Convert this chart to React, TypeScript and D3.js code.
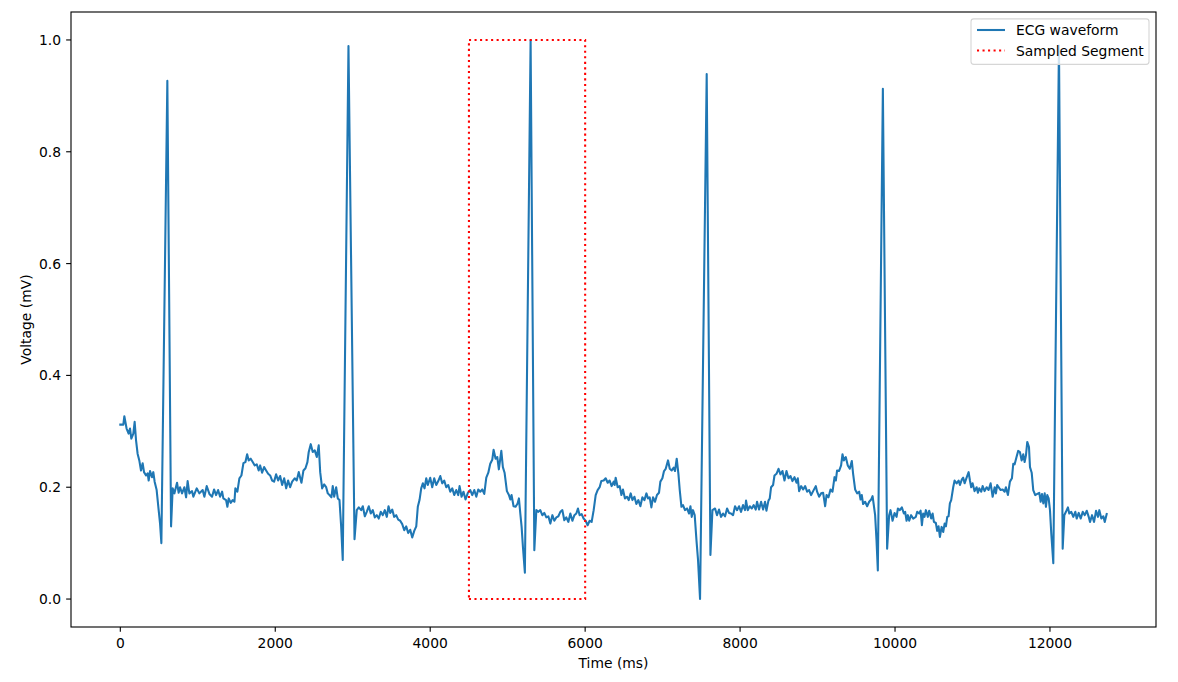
import React from "react";
import * as d3 from "d3";

// ECG samples: [time (ms), voltage (mV)]
const ecgSamples: [number, number][] = [
  [0, 0.312], [39, 0.312], [52, 0.327], [81, 0.305], [107, 0.296], [125, 0.305], [142, 0.287], [168, 0.296],
  [185, 0.317], [203, 0.284], [223, 0.26], [245, 0.248], [267, 0.23], [288, 0.243], [306, 0.227], [332, 0.221],
  [353, 0.225], [366, 0.212], [384, 0.229], [409, 0.218], [426, 0.227], [443, 0.21], [469, 0.195], [495, 0.159],
  [513, 0.135], [530, 0.1], [607, 0.927], [655, 0.13], [676, 0.198], [698, 0.189], [732, 0.208], [753, 0.19],
  [771, 0.2], [797, 0.189], [827, 0.2], [849, 0.182], [869, 0.211], [891, 0.189], [926, 0.193], [943, 0.183],
  [986, 0.198], [1020, 0.189], [1063, 0.195], [1085, 0.183], [1115, 0.202], [1150, 0.188], [1184, 0.183],
  [1210, 0.196], [1236, 0.186], [1262, 0.195], [1288, 0.183], [1314, 0.192], [1330, 0.18], [1365, 0.177],
  [1382, 0.165], [1399, 0.18], [1425, 0.172], [1450, 0.177], [1473, 0.174], [1485, 0.198], [1511, 0.192],
  [1537, 0.216], [1563, 0.221], [1589, 0.243], [1615, 0.245], [1637, 0.259], [1657, 0.248], [1683, 0.251],
  [1709, 0.245], [1735, 0.239], [1761, 0.241], [1786, 0.23], [1805, 0.239], [1830, 0.226], [1856, 0.236],
  [1882, 0.23], [1908, 0.224], [1934, 0.221], [1960, 0.212], [1985, 0.21], [2011, 0.223], [2037, 0.212],
  [2063, 0.22], [2089, 0.204], [2115, 0.216], [2141, 0.198], [2166, 0.212], [2192, 0.2], [2218, 0.21],
  [2251, 0.216], [2277, 0.212], [2303, 0.227], [2338, 0.208], [2364, 0.23], [2390, 0.234], [2415, 0.245],
  [2432, 0.263], [2458, 0.277], [2484, 0.263], [2510, 0.266], [2536, 0.254], [2561, 0.275], [2580, 0.227],
  [2605, 0.198], [2631, 0.205], [2657, 0.2], [2678, 0.189], [2700, 0.186], [2725, 0.182], [2742, 0.202],
  [2760, 0.183], [2786, 0.2], [2807, 0.18], [2829, 0.177], [2851, 0.129], [2871, 0.07], [2945, 0.989],
  [3023, 0.107], [3052, 0.159], [3078, 0.164], [3109, 0.159], [3130, 0.166], [3156, 0.148], [3181, 0.156],
  [3207, 0.166], [3233, 0.153], [3259, 0.159], [3285, 0.146], [3311, 0.15], [3336, 0.144], [3362, 0.156],
  [3388, 0.15], [3414, 0.159], [3440, 0.147], [3462, 0.166], [3484, 0.154], [3510, 0.16], [3535, 0.147],
  [3561, 0.15], [3587, 0.142], [3613, 0.14], [3639, 0.134], [3665, 0.123], [3690, 0.13], [3716, 0.118],
  [3742, 0.124], [3768, 0.11], [3794, 0.122], [3820, 0.13], [3840, 0.165], [3862, 0.177], [3884, 0.198],
  [3905, 0.207], [3927, 0.198], [3949, 0.216], [3969, 0.204], [4000, 0.217], [4026, 0.2], [4052, 0.216],
  [4078, 0.204], [4104, 0.211], [4130, 0.22], [4155, 0.207], [4181, 0.212], [4207, 0.2], [4233, 0.204],
  [4259, 0.192], [4285, 0.198], [4310, 0.186], [4336, 0.195], [4362, 0.186], [4379, 0.202], [4405, 0.183],
  [4430, 0.192], [4456, 0.178], [4486, 0.19], [4517, 0.195], [4543, 0.186], [4569, 0.195], [4595, 0.183],
  [4620, 0.196], [4646, 0.192], [4672, 0.196], [4698, 0.188], [4724, 0.217], [4750, 0.226], [4775, 0.242],
  [4801, 0.249], [4818, 0.267], [4844, 0.251], [4866, 0.254], [4886, 0.232], [4918, 0.265], [4938, 0.236],
  [4960, 0.226], [4990, 0.193], [5016, 0.186], [5034, 0.178], [5050, 0.186], [5076, 0.166], [5102, 0.165],
  [5128, 0.171], [5145, 0.18], [5163, 0.153], [5180, 0.129], [5197, 0.093], [5222, 0.047], [5296, 1.0],
  [5344, 0.0875], [5370, 0.159], [5396, 0.156], [5421, 0.159], [5447, 0.15], [5473, 0.154], [5499, 0.146],
  [5525, 0.148], [5551, 0.135], [5577, 0.15], [5602, 0.14], [5628, 0.146], [5654, 0.148], [5680, 0.156],
  [5706, 0.159], [5731, 0.141], [5757, 0.146], [5783, 0.138], [5809, 0.153], [5835, 0.14], [5861, 0.15],
  [5886, 0.153], [5907, 0.162], [5929, 0.15], [5955, 0.152], [5980, 0.144], [6006, 0.14], [6032, 0.132],
  [6058, 0.14], [6084, 0.138], [6110, 0.159], [6136, 0.186], [6161, 0.195], [6187, 0.2], [6209, 0.211],
  [6239, 0.212], [6265, 0.216], [6291, 0.208], [6316, 0.212], [6342, 0.202], [6368, 0.21], [6381, 0.204],
  [6394, 0.217], [6420, 0.2], [6446, 0.202], [6468, 0.186], [6488, 0.196], [6514, 0.18], [6540, 0.183],
  [6562, 0.177], [6588, 0.189], [6610, 0.177], [6636, 0.183], [6661, 0.17], [6687, 0.177], [6713, 0.166],
  [6739, 0.182], [6765, 0.177], [6791, 0.189], [6811, 0.18], [6833, 0.182], [6855, 0.164], [6876, 0.182],
  [6902, 0.174], [6927, 0.186], [6953, 0.19], [6971, 0.21], [6997, 0.216], [7018, 0.229], [7040, 0.233],
  [7070, 0.248], [7092, 0.233], [7117, 0.23], [7143, 0.235], [7160, 0.229], [7182, 0.251], [7204, 0.224],
  [7221, 0.195], [7243, 0.165], [7263, 0.168], [7289, 0.159], [7315, 0.162], [7341, 0.153], [7359, 0.166],
  [7376, 0.147], [7392, 0.159], [7414, 0.15], [7437, 0.105], [7457, 0.07], [7483, 0.0], [7569, 0.939],
  [7617, 0.079], [7643, 0.159], [7677, 0.162], [7702, 0.15], [7728, 0.16], [7754, 0.147], [7780, 0.153],
  [7806, 0.148], [7832, 0.162], [7857, 0.154], [7883, 0.153], [7909, 0.15], [7935, 0.166], [7961, 0.159],
  [7987, 0.166], [8012, 0.156], [8038, 0.168], [8064, 0.159], [8077, 0.176], [8099, 0.159], [8125, 0.166],
  [8151, 0.162], [8176, 0.168], [8202, 0.16], [8219, 0.174], [8245, 0.16], [8271, 0.174], [8297, 0.16],
  [8322, 0.174], [8340, 0.158], [8366, 0.176], [8383, 0.18], [8400, 0.2], [8426, 0.204], [8444, 0.221],
  [8470, 0.224], [8496, 0.233], [8521, 0.223], [8547, 0.229], [8573, 0.212], [8599, 0.229], [8625, 0.216],
  [8651, 0.22], [8676, 0.211], [8702, 0.218], [8728, 0.208], [8745, 0.216], [8762, 0.193], [8788, 0.202],
  [8814, 0.196], [8840, 0.202], [8865, 0.192], [8891, 0.195], [8917, 0.186], [8943, 0.193], [8977, 0.202],
  [8994, 0.192], [9020, 0.183], [9046, 0.189], [9072, 0.19], [9098, 0.166], [9116, 0.186], [9141, 0.182],
  [9167, 0.196], [9193, 0.192], [9219, 0.218], [9236, 0.212], [9252, 0.23], [9278, 0.229], [9304, 0.239],
  [9322, 0.259], [9339, 0.248], [9364, 0.254], [9390, 0.239], [9416, 0.233], [9442, 0.247], [9459, 0.224],
  [9485, 0.196], [9511, 0.189], [9537, 0.192], [9555, 0.178], [9571, 0.186], [9588, 0.17], [9614, 0.174],
  [9640, 0.166], [9666, 0.174], [9692, 0.178], [9710, 0.184], [9726, 0.168], [9743, 0.15], [9761, 0.105],
  [9778, 0.051], [9843, 0.9125], [9898, 0.09], [9924, 0.15], [9942, 0.159], [9968, 0.14], [9994, 0.154],
  [10020, 0.147], [10037, 0.162], [10062, 0.159], [10088, 0.164], [10114, 0.153], [10131, 0.156],
  [10149, 0.14], [10166, 0.15], [10183, 0.14], [10208, 0.15], [10234, 0.144], [10269, 0.147], [10286, 0.156],
  [10312, 0.153], [10330, 0.158], [10347, 0.132], [10363, 0.153], [10381, 0.147], [10398, 0.159],
  [10424, 0.147], [10441, 0.158], [10467, 0.144], [10485, 0.153], [10502, 0.138], [10527, 0.136],
  [10544, 0.122], [10562, 0.13], [10579, 0.111], [10601, 0.129], [10622, 0.12], [10640, 0.135], [10657, 0.13],
  [10674, 0.147], [10691, 0.148], [10708, 0.171], [10725, 0.177], [10751, 0.2], [10769, 0.212], [10795, 0.207],
  [10821, 0.212], [10838, 0.204], [10863, 0.214], [10880, 0.217], [10898, 0.207], [10924, 0.217],
  [10950, 0.227], [10967, 0.212], [10983, 0.2], [11001, 0.207], [11027, 0.193], [11053, 0.2], [11070, 0.19],
  [11087, 0.198], [11113, 0.192], [11131, 0.202], [11156, 0.193], [11182, 0.2], [11208, 0.195], [11234, 0.207],
  [11260, 0.183], [11286, 0.2], [11302, 0.189], [11319, 0.204], [11337, 0.2], [11363, 0.195], [11389, 0.196],
  [11415, 0.192], [11431, 0.2], [11457, 0.186], [11483, 0.21], [11509, 0.216], [11526, 0.242], [11544, 0.241],
  [11570, 0.255], [11590, 0.265], [11612, 0.263], [11634, 0.248], [11655, 0.259], [11673, 0.245],
  [11690, 0.257], [11707, 0.281], [11729, 0.272], [11742, 0.236], [11764, 0.226], [11784, 0.195],
  [11810, 0.186], [11836, 0.188], [11862, 0.19], [11880, 0.174], [11897, 0.188], [11914, 0.171],
  [11932, 0.189], [11948, 0.165], [11965, 0.186], [11983, 0.18], [12000, 0.159], [12017, 0.117],
  [12043, 0.064], [12116, 0.99], [12164, 0.09], [12185, 0.15], [12206, 0.156], [12232, 0.164], [12249, 0.153],
  [12275, 0.156], [12301, 0.147], [12327, 0.156], [12345, 0.144], [12371, 0.154], [12397, 0.144],
  [12423, 0.156], [12449, 0.15], [12475, 0.158], [12500, 0.147], [12517, 0.138], [12543, 0.15], [12569, 0.138],
  [12595, 0.158], [12620, 0.147], [12637, 0.159], [12663, 0.144], [12689, 0.148], [12707, 0.138], [12732, 0.152],
];

// Sampled segment rectangle corners (ms, mV)
const segmentTimes = [4500, 6000, 6000, 4500, 4500];
const segmentValues = [0, 0, 1, 1, 0];

const xTicks = [0, 2000, 4000, 6000, 8000, 10000, 12000];
const yTicks = [0, 0.2, 0.4, 0.6, 0.8, 1.0];
const legendLabels = ["ECG waveform", "Sampled Segment"];

const W = 1178;
const H = 682;
const plot = { left: 71, right: 1156, top: 12, bottom: 627 };
const FONT = "DejaVu Sans, sans-serif";
const FS = 13.89;

export default function App() {
  const tMax = d3.max(ecgSamples, (d) => d[0]) as number;
  const tMin = 0;
  const xPad = (tMax - tMin) * 0.05;
  const x = d3.scaleLinear().domain([tMin - xPad, tMax + xPad]).range([plot.left, plot.right]);
  const y = d3.scaleLinear().domain([-0.05, 1.05]).range([plot.bottom, plot.top]);

  const line = d3
    .line<[number, number]>()
    .x((d) => x(d[0]))
    .y((d) => y(d[1]));

  const segPts: [number, number][] = segmentTimes.map((t, i) => [t, segmentValues[i]]);

  const tickLen = 4.86;
  const lg = { x: 971, y: 18.9, w: 178, h: 45.5 };

  return (
    <svg
      width={W}
      height={H}
      style={{ position: "absolute", left: 0, top: 0, background: "#fff" }}
      fontFamily={FONT}
    >
      <rect x={0} y={0} width={W} height={H} fill="#fff" />
      <defs>
        <clipPath id="plotclip">
          <rect x={plot.left} y={plot.top} width={plot.right - plot.left} height={plot.bottom - plot.top} />
        </clipPath>
      </defs>
      <g clipPath="url(#plotclip)">
        <path
          d={line(ecgSamples) || ""}
          fill="none"
          stroke="#1f77b4"
          strokeWidth={2.08}
          strokeLinejoin="round"
          strokeLinecap="square"
        />
        <path
          d={line(segPts) || ""}
          fill="none"
          stroke="red"
          strokeWidth={2.08}
          strokeDasharray="2.08 3.44"
        />
      </g>
      {/* spines */}
      <rect
        x={plot.left}
        y={plot.top}
        width={plot.right - plot.left}
        height={plot.bottom - plot.top}
        fill="none"
        stroke="#000"
        strokeWidth={1.11}
      />
      {/* x ticks */}
      {xTicks.map((t) => (
        <g key={"x" + t}>
          <line x1={x(t)} x2={x(t)} y1={plot.bottom} y2={plot.bottom + tickLen} stroke="#000" strokeWidth={1.11} />
          <text x={x(t)} y={648} textAnchor="middle" fontSize={FS} fill="#000">
            {String(t)}
          </text>
        </g>
      ))}
      {/* y ticks */}
      {yTicks.map((v) => (
        <g key={"y" + v}>
          <line x1={plot.left - tickLen} x2={plot.left} y1={y(v)} y2={y(v)} stroke="#000" strokeWidth={1.11} />
          <text x={61} y={y(v) + 5} textAnchor="end" fontSize={FS} fill="#000">
            {v.toFixed(1)}
          </text>
        </g>
      ))}
      <text x={(plot.left + plot.right) / 2} y={668} textAnchor="middle" fontSize={FS} fill="#000">
        Time (ms)
      </text>
      <text
        transform={`translate(31, ${(plot.top + plot.bottom) / 2}) rotate(-90)`}
        textAnchor="middle"
        fontSize={FS}
        fill="#000"
      >
        Voltage (mV)
      </text>
      {/* legend */}
      <rect
        x={lg.x}
        y={lg.y}
        width={lg.w}
        height={lg.h}
        rx={2.8}
        fill="#fff"
        fillOpacity={0.8}
        stroke="#d6d6d6"
        strokeWidth={1.11}
      />
      <line x1={977} x2={1005} y1={30} y2={30} stroke="#1f77b4" strokeWidth={2.08} />
      <text x={1016} y={35} fontSize={FS} fill="#000">
        {legendLabels[0]}
      </text>
      <line x1={977} x2={1005} y1={50.5} y2={50.5} stroke="red" strokeWidth={2.08} strokeDasharray="2.08 3.44" />
      <text x={1016} y={55.5} fontSize={FS} fill="#000">
        {legendLabels[1]}
      </text>
    </svg>
  );
}
